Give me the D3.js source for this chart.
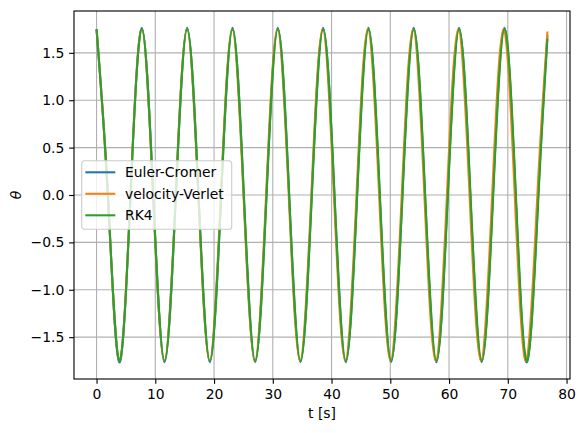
<!DOCTYPE html>
<html>
<head>
<meta charset="utf-8">
<script src="https://cdn.jsdelivr.net/npm/d3@7"></script>
<style>
  body { margin: 0; background: #fff; }
  text { font-family: "DejaVu Sans", sans-serif; }
</style>
</head>
<body>
<div id="chart"></div>
<script>
"use strict";

// sample points (turning points and zero crossings)
const tEulerCromer = [0, 1.93, 3.86, 5.78, 7.71, 9.64, 11.57, 13.50, 15.42, 17.35,
  19.28, 21.21, 23.14, 25.06, 26.99, 28.92, 30.85, 32.78, 34.70, 36.63,
  38.56, 40.49, 42.42, 44.34, 46.27, 48.20, 50.13, 52.06, 53.98, 55.91,
  57.84, 59.77, 61.70, 63.62, 65.55, 67.48, 69.41, 71.34, 73.26, 75.19, 76.75];
const thetaEulerCromer = [1.75, 0, -1.765, 0, 1.765, 0, -1.765, 0, 1.765, 0,
  -1.765, 0, 1.765, 0, -1.765, 0, 1.765, 0, -1.765, 0,
  1.765, 0, -1.765, 0, 1.765, 0, -1.765, 0, 1.765, 0,
  -1.765, 0, 1.765, 0, -1.765, 0, 1.765, 0, -1.765, 0, 1.686];

const tVerlet = [0, 1.92, 3.85, 5.77, 7.70, 9.62, 11.54, 13.47, 15.39, 17.32,
  19.24, 21.16, 23.09, 25.01, 26.94, 28.86, 30.78, 32.71, 34.63, 36.56,
  38.48, 40.40, 42.33, 44.25, 46.17, 48.10, 50.02, 51.95, 53.87, 55.80,
  57.71, 59.64, 61.56, 63.49, 65.41, 67.34, 69.26, 71.18, 73.11, 75.03, 76.75];
const thetaVerlet = [1.75, 0, -1.75, 0, 1.75, 0, -1.75, 0, 1.75, 0,
  -1.75, 0, 1.75, 0, -1.75, 0, 1.75, 0, -1.75, 0,
  1.75, 0, -1.75, 0, 1.75, 0, -1.75, 0, 1.75, 0,
  -1.75, 0, 1.75, 0, -1.75, 0, 1.75, 0, -1.75, 0, 1.725];

const tRK4 = [0, 1.93, 3.86, 5.79, 7.72, 9.65, 11.58, 13.50, 15.43, 17.36,
  19.29, 21.22, 23.15, 25.08, 27.01, 28.94, 30.87, 32.79, 34.72, 36.65,
  38.58, 40.51, 42.44, 44.37, 46.30, 48.23, 50.15, 52.08, 54.01, 55.94,
  57.87, 59.80, 61.73, 63.66, 65.59, 67.52, 69.45, 71.38, 73.30, 75.23, 76.75];
const thetaRK4 = [1.75, 0, -1.75, 0, 1.75, 0, -1.75, 0, 1.75, 0,
  -1.75, 0, 1.75, 0, -1.75, 0, 1.75, 0, -1.75, 0,
  1.75, 0, -1.75, 0, 1.75, 0, -1.75, 0, 1.75, 0,
  -1.75, 0, 1.75, 0, -1.75, 0, 1.75, 0, -1.75, 0, 1.65];

const seriesNames = ["Euler-Cromer", "velocity-Verlet", "RK4"];
const seriesColors = ["#1f77b4", "#ff7f0e", "#2ca02c"];
const xTicks = [0, 10, 20, 30, 40, 50, 60, 70, 80];
const yTicks = [-1.5, -1.0, -0.5, 0.0, 0.5, 1.0, 1.5];

const msm = {
  width: 584,
  height: 433,
  left: 74,
  top: 11,
  plotW: 496,
  plotH: 368
};
const fontPx = 13.9;

let svg = d3.select("#chart")
  .append("svg")
  .attr("width", msm.width)
  .attr("height", msm.height);

// zip the arrays into point lists
let series = [
  tEulerCromer.map((t, i) => ({ t: t, y: thetaEulerCromer[i] })),
  tVerlet.map((t, i) => ({ t: t, y: thetaVerlet[i] })),
  tRK4.map((t, i) => ({ t: t, y: thetaRK4[i] }))
];

// matplotlib style autoscale: 5% margin on each side
let allT = series.flat().map((d) => d.t);
let allY = series.flat().map((d) => d.y);
let tExt = d3.extent(allT);
let yExt = d3.extent(allY);
let tPad = (tExt[1] - tExt[0]) * 0.05;
let yPad = (yExt[1] - yExt[0]) * 0.05;

let xScale = d3.scaleLinear()
  .domain([tExt[0] - tPad, tExt[1] + tPad])
  .range([msm.left, msm.left + msm.plotW]);

let yScale = d3.scaleLinear()
  .domain([yExt[0] - yPad, yExt[1] + yPad])
  .range([msm.top + msm.plotH, msm.top]);

// grid lines
let grid = svg.append("g").attr("stroke", "#b0b0b0").attr("stroke-width", 1.11);
grid.selectAll(".gx")
  .data(xTicks)
  .enter()
  .append("line")
  .attr("x1", (d) => xScale(d))
  .attr("x2", (d) => xScale(d))
  .attr("y1", msm.top)
  .attr("y2", msm.top + msm.plotH);
grid.selectAll(".gy")
  .data(yTicks)
  .enter()
  .append("line")
  .attr("x1", msm.left)
  .attr("x2", msm.left + msm.plotW)
  .attr("y1", (d) => yScale(d))
  .attr("y2", (d) => yScale(d));

// the three integrator curves
let line = d3.line()
  .x((d) => xScale(d.t))
  .y((d) => yScale(d.y))
  .curve(d3.curveNatural);

svg.selectAll(".curve")
  .data(series)
  .enter()
  .append("path")
  .attr("fill", "none")
  .attr("stroke", (d, i) => seriesColors[i])
  .attr("stroke-width", 2.08)
  .attr("stroke-linejoin", "round")
  .attr("d", line);

// axes
let xAxis = d3.axisBottom(xScale)
  .tickValues(xTicks)
  .tickSize(4.86)
  .tickPadding(4.86)
  .tickFormat(d3.format("d"));
let gx = svg.append("g")
  .attr("transform", "translate(0," + (msm.top + msm.plotH) + ")")
  .call(xAxis);

let yAxis = d3.axisLeft(yScale)
  .tickValues(yTicks)
  .tickSize(4.86)
  .tickPadding(4.86)
  .tickFormat(d3.format(".1f"));
let gy = svg.append("g")
  .attr("transform", "translate(" + msm.left + ",0)")
  .call(yAxis);

[gx, gy].forEach((g) => {
  g.select(".domain").remove();
  g.selectAll(".tick line").attr("stroke", "#000").attr("stroke-width", 1.11);
  g.selectAll(".tick text")
    .attr("fill", "#000")
    .style("font-size", fontPx + "px")
    .style("font-family", "DejaVu Sans");
});

// frame
svg.append("rect")
  .attr("x", msm.left)
  .attr("y", msm.top)
  .attr("width", msm.plotW)
  .attr("height", msm.plotH)
  .attr("fill", "none")
  .attr("stroke", "#000")
  .attr("stroke-width", 1.11);

// axis labels
svg.append("text")
  .attr("x", msm.left + msm.plotW / 2)
  .attr("y", 418)
  .attr("text-anchor", "middle")
  .style("font-size", fontPx + "px")
  .text("t [s]");

svg.append("text")
  .attr("transform", "translate(21," + (msm.top + msm.plotH / 2) + ")rotate(-90)")
  .attr("text-anchor", "middle")
  .style("font-size", fontPx + "px")
  .style("font-style", "italic")
  .text("θ");

// legend, center left
let legend = svg.append("g").attr("transform", "translate(81.7,160.7)");
legend.append("rect")
  .attr("width", 150)
  .attr("height", 68.6)
  .attr("rx", 2.8)
  .attr("fill", "#fff")
  .attr("fill-opacity", 0.8)
  .attr("stroke", "#cccccc")
  .attr("stroke-width", 1.1);

let items = legend.selectAll(".item")
  .data(seriesNames)
  .enter()
  .append("g")
  .attr("transform", (d, i) => "translate(0," + (11.6 + i * 21.5) + ")");
items.append("line")
  .attr("x1", 3.6)
  .attr("x2", 33.6)
  .attr("stroke", (d, i) => seriesColors[i])
  .attr("stroke-width", 2.08);
items.append("text")
  .attr("x", 43.3)
  .attr("dy", "0.36em")
  .style("font-size", fontPx + "px")
  .text((d) => d);
</script>
</body>
</html>
